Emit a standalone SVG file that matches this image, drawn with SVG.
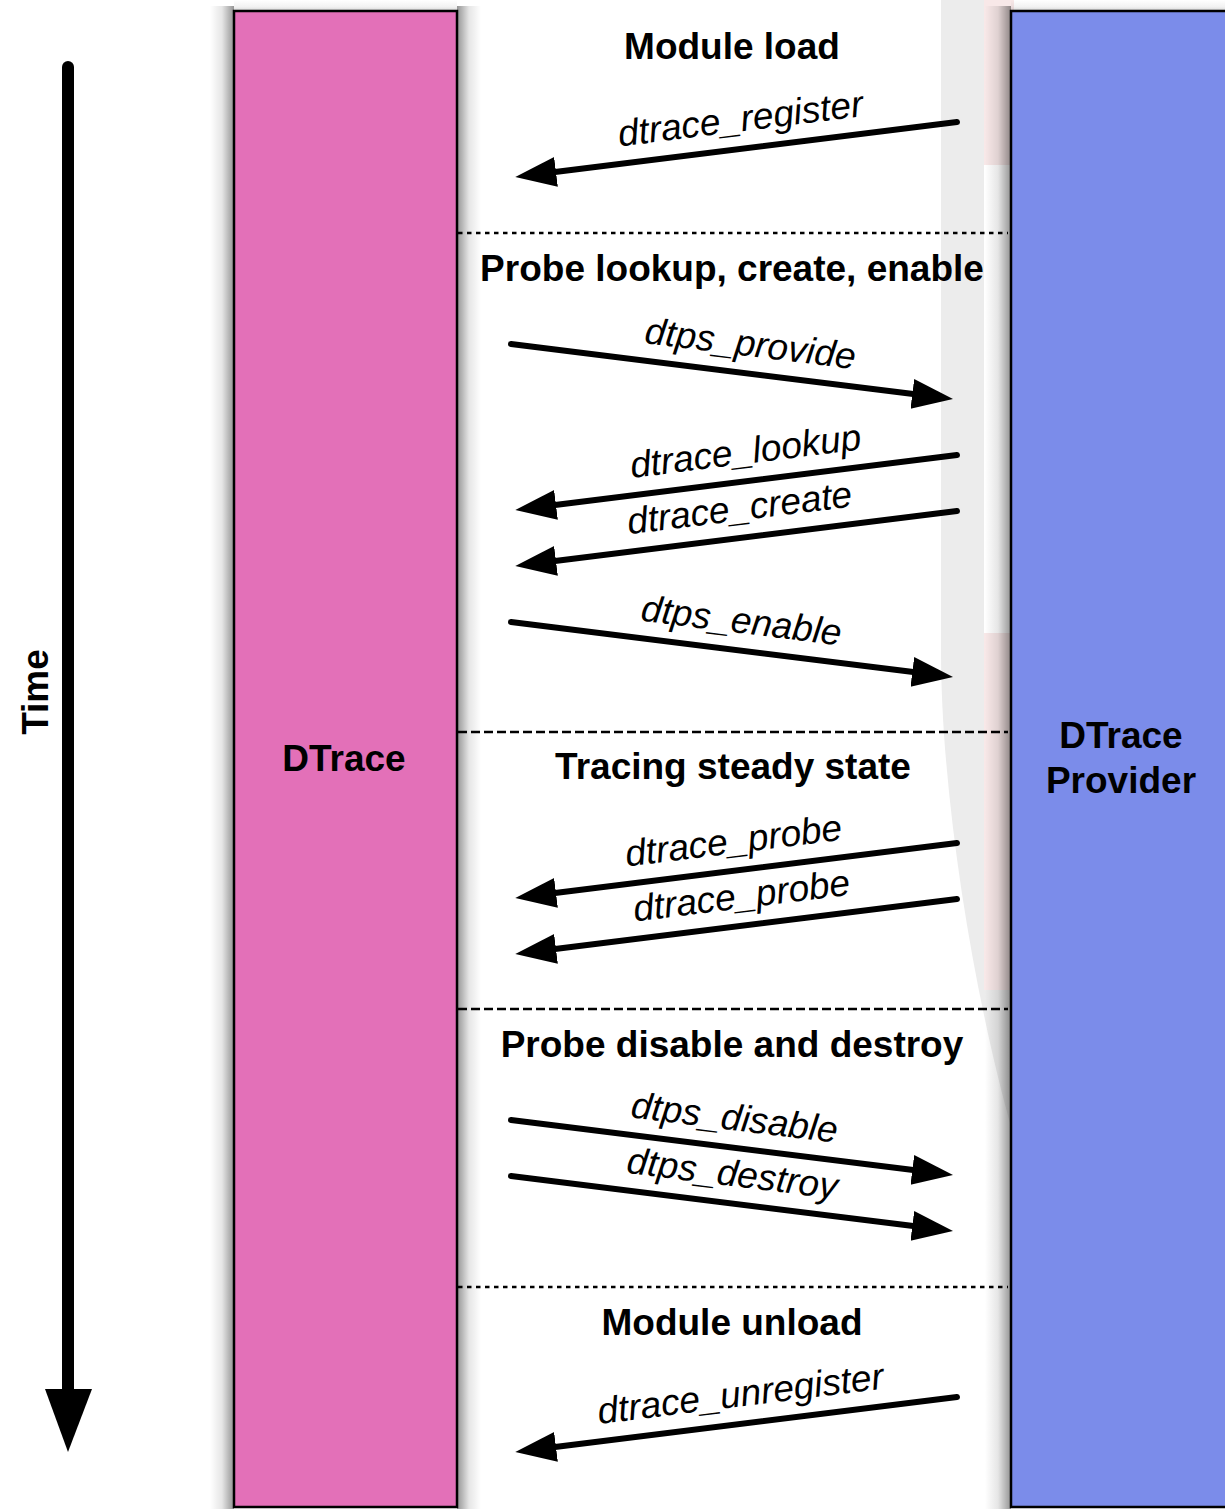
<svg xmlns="http://www.w3.org/2000/svg" width="1225" height="1509" viewBox="0 0 1225 1509">
  <style>
    .title { font-family: "Liberation Sans", Arial, sans-serif; font-weight: bold; font-size: 37px; fill: #000; text-anchor: middle; }
    .call { font-family: "Liberation Sans", Arial, sans-serif; font-style: italic; font-size: 37px; fill: #000; text-anchor: middle; }
    .arrow { stroke: #000; stroke-width: 6; stroke-linecap: round; fill: none; marker-end: url(#head); }
    .sep { stroke: #000; stroke-width: 2.5; fill: none; }
    .dot { stroke-dasharray: 4.5 4.5; }
    .dash { stroke-dasharray: 9 4; }
  </style>
  <defs>
    <marker id="head" markerUnits="userSpaceOnUse" markerWidth="44" markerHeight="32" refX="3" refY="15" orient="auto">
      <path d="M0,0 L41,15 L0,30 Z" fill="#000"/>
    </marker>
    <linearGradient id="shL" x1="0" y1="0" x2="1" y2="0">
      <stop offset="0" stop-color="#000" stop-opacity="0"/>
      <stop offset="0.5" stop-color="#000" stop-opacity="0.1"/>
      <stop offset="1" stop-color="#000" stop-opacity="0.42"/>
    </linearGradient>
    <linearGradient id="shR" x1="1" y1="0" x2="0" y2="0">
      <stop offset="0" stop-color="#000" stop-opacity="0"/>
      <stop offset="0.5" stop-color="#000" stop-opacity="0.1"/>
      <stop offset="1" stop-color="#000" stop-opacity="0.42"/>
    </linearGradient>
    <linearGradient id="shT" x1="0" y1="0" x2="0" y2="1">
      <stop offset="0" stop-color="#000" stop-opacity="0"/>
      <stop offset="0.6" stop-color="#000" stop-opacity="0.05"/>
      <stop offset="1" stop-color="#000" stop-opacity="0.16"/>
    </linearGradient>
  </defs>

  <!-- background -->
  <g id="background">
    <rect x="0" y="0" width="1225" height="1509" fill="#ffffff"/>
    <rect x="984" y="0" width="30" height="165" fill="#f8e8e8"/>
    <rect x="984" y="633" width="30" height="357" fill="#f8e8e8"/>
    <path d="M941,0 L984,0 L984,990 L1012,990 L1012,1130 C975,1000 941,800 941,650 Z" fill="#ececec"/>
  </g>

  <!-- shadows -->
  <g id="shadows">
    <rect x="210" y="6" width="24" height="1503" fill="url(#shL)"/>
    <rect x="457" y="6" width="24" height="1503" fill="url(#shR)"/>
    <rect x="234" y="0" width="223" height="11" fill="url(#shT)"/>
    <rect x="985" y="6" width="26" height="1503" fill="url(#shL)"/>
    <rect x="1011" y="0" width="214" height="11" fill="url(#shT)"/>
  </g>

  <!-- time axis -->
  <g id="time-axis">
    <line x1="68" y1="67" x2="68" y2="1395" stroke="#000" stroke-width="12" stroke-linecap="round"/>
    <polygon points="45,1389 92,1389 68,1452" fill="#000"/>
    <text class="title" transform="translate(48,692) rotate(-90)" x="0" y="0">Time</text>
  </g>

  <!-- nodes -->
  <g id="node-dtrace">
    <rect x="234" y="11" width="223" height="1496" fill="#e370b8" stroke="#000" stroke-width="2.5"/>
    <text class="title" x="344" y="771">DTrace</text>
  </g>
  <g id="node-provider">
    <rect x="1011" y="11" width="240" height="1496" fill="#7b8cea" stroke="#000" stroke-width="2.5"/>
    <text class="title" x="1121" y="748">DTrace</text>
    <text class="title" x="1121" y="793">Provider</text>
  </g>

  <!-- phase separators and titles -->
  <g id="phases">
    <line class="sep dot" x1="458" y1="233" x2="1008" y2="233"/>
    <line class="sep dash" x1="458" y1="732" x2="1008" y2="732"/>
    <line class="sep dash" x1="458" y1="1009" x2="1008" y2="1009"/>
    <line class="sep dot" x1="458" y1="1287" x2="1008" y2="1287"/>
    <text class="title" x="732" y="59">Module load</text>
    <text class="title" x="732" y="281">Probe lookup, create, enable</text>
    <text class="title" x="733" y="779">Tracing steady state</text>
    <text class="title" x="732" y="1057">Probe disable and destroy</text>
    <text class="title" x="732" y="1335">Module unload</text>
  </g>

  <!-- connectors -->
  <g id="connectors">
    <path class="arrow" d="M957,122 L553,172.3"/>
    <path class="arrow" d="M511,344 L915.3,394.3"/>
    <path class="arrow" d="M957,455 L553,505.3"/>
    <path class="arrow" d="M957,511 L553,561.3"/>
    <path class="arrow" d="M511,622 L915.3,672.3"/>
    <path class="arrow" d="M957,843 L553,893.3"/>
    <path class="arrow" d="M957,899 L553,949.3"/>
    <path class="arrow" d="M511,1120 L915.3,1170.3"/>
    <path class="arrow" d="M511,1176 L915.3,1226.3"/>
    <path class="arrow" d="M957,1397 L553,1447.3"/>

    <text class="call" transform="rotate(-7.09 742 131.2)" x="742" y="131.2">dtrace_register</text>
    <text class="call" transform="rotate(7.09 749 356.1)" x="749" y="356.1">dtps_provide</text>
    <text class="call" transform="rotate(-7.09 747 463.6)" x="747" y="463.6">dtrace_lookup</text>
    <text class="call" transform="rotate(-7.09 741 520.4)" x="741" y="520.4">dtrace_create</text>
    <text class="call" transform="rotate(7.09 740 633)" x="740" y="633">dtps_enable</text>
    <text class="call" transform="rotate(-7.09 735 853.1)" x="735" y="853.1">dtrace_probe</text>
    <text class="call" transform="rotate(-7.09 743 908.1)" x="743" y="908.1">dtrace_probe</text>
    <text class="call" transform="rotate(7.09 733 1130.1)" x="733" y="1130.1">dtps_disable</text>
    <text class="call" transform="rotate(7.09 731 1185.9)" x="731" y="1185.9">dtps_destroy</text>
    <text class="call" transform="rotate(-7.09 742 1406.2)" x="742" y="1406.2">dtrace_unregister</text>
  </g>
</svg>
